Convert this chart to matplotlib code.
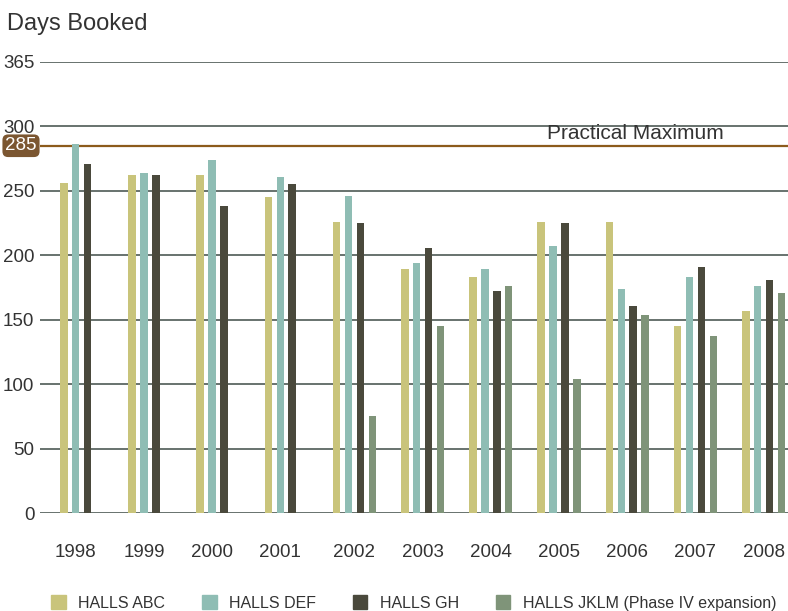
import numpy as np
import matplotlib
matplotlib.use('Agg')
import matplotlib.pyplot as plt
from matplotlib.patches import Patch
from matplotlib.transforms import blended_transform_factory

plt.rcParams['font.family'] = ['Liberation Sans', 'DejaVu Sans']

years = ['1998', '1999', '2000', '2001', '2002', '2003', '2004', '2005', '2006', '2007', '2008']
halls_abc = [256, 262, 262, 245, 226, 189, 183, 226, 226, 145, 157]
halls_def = [286, 264, 274, 261, 246, 194, 189, 207, 174, 183, 176]
halls_gh = [271, 262, 238, 255, 225, 206, 172, 225, 161, 191, 181]
halls_jklm = [None, None, None, None, 75, 145, 176, 104, 154, 137, 171]
series_names = ['HALLS ABC', 'HALLS DEF', 'HALLS GH', 'HALLS JKLM (Phase IV expansion)']
colors = ['#c9c47b', '#8fbdb4', '#4a493c', '#7f9479']

practical_max = 285
yticks = [0, 50, 100, 150, 200, 250, 300, 350]
ytick_labels = ['0', '50', '100', '150', '200', '250', '300', '365']

W, H = 788, 611
fig = plt.figure(figsize=(W / 100, H / 100), dpi=100)
ax = fig.add_axes([40 / W, (H - 513) / H, 748 / W, (513 - 62) / H])

slot = 0.1745
width = 0.11
series = [halls_abc, halls_def, halls_gh, halls_jklm]
x = np.arange(len(years))
for j, (vals, col) in enumerate(zip(series, colors)):
    for i, v in enumerate(vals):
        if v is None:
            continue
        ax.bar(x[i] + (j - 1.5) * slot, v, width=width, color=col, zorder=3)

# tick under the centre of the bars that exist
tick_pos = []
for i in range(len(years)):
    n = sum(1 for s in series if s[i] is not None)
    tick_pos.append(x[i] + ((n - 1) / 2 - 1.5) * slot)

grid_col = '#3f4b47'
for t in yticks:
    ax.axhline(t, color=grid_col, lw=1.1, zorder=2)
ax.axhline(practical_max, color='#8c5b1c', lw=1.6, zorder=2)

ax.set_xlim(-0.611, 10.357)
ax.set_ylim(0, 350)
for s in ax.spines.values():
    s.set_visible(False)
ax.set_yticks(yticks)
ax.set_yticklabels(ytick_labels)
ax.set_xticks(tick_pos)
ax.set_xticklabels(years)
ax.tick_params(axis='both', length=0, labelsize=13.5, colors='#333333')
ax.tick_params(axis='y', pad=4)
ax.tick_params(axis='x', pad=22)

tr = blended_transform_factory(fig.transFigure, ax.transData)
ax.text(21 / W, practical_max, str(practical_max), transform=tr, ha='center', va='center',
        fontsize=13.5, color='white', clip_on=False,
        bbox=dict(boxstyle='round,pad=0.15,rounding_size=0.3', fc='#7b5631', ec='none'))
ax.text(724 / W, practical_max + 2, 'Practical Maximum', transform=tr, ha='right', va='bottom',
        fontsize=15, color='#333333', clip_on=False)

fig.text(7 / W, 1 - 30 / H, 'Days Booked', fontsize=17, color='#333333', va='baseline')

handles = [Patch(color=c) for c in colors]
fig.legend(handles, series_names, loc='center', bbox_to_anchor=(414 / W, 1 - 603 / H), ncol=4,
           frameon=False, fontsize=11.5, handlelength=0.9, handleheight=0.9,
           handletextpad=0.8, columnspacing=2.3, labelcolor='#333333')

fig.savefig('out.png', dpi=100, facecolor='white')
